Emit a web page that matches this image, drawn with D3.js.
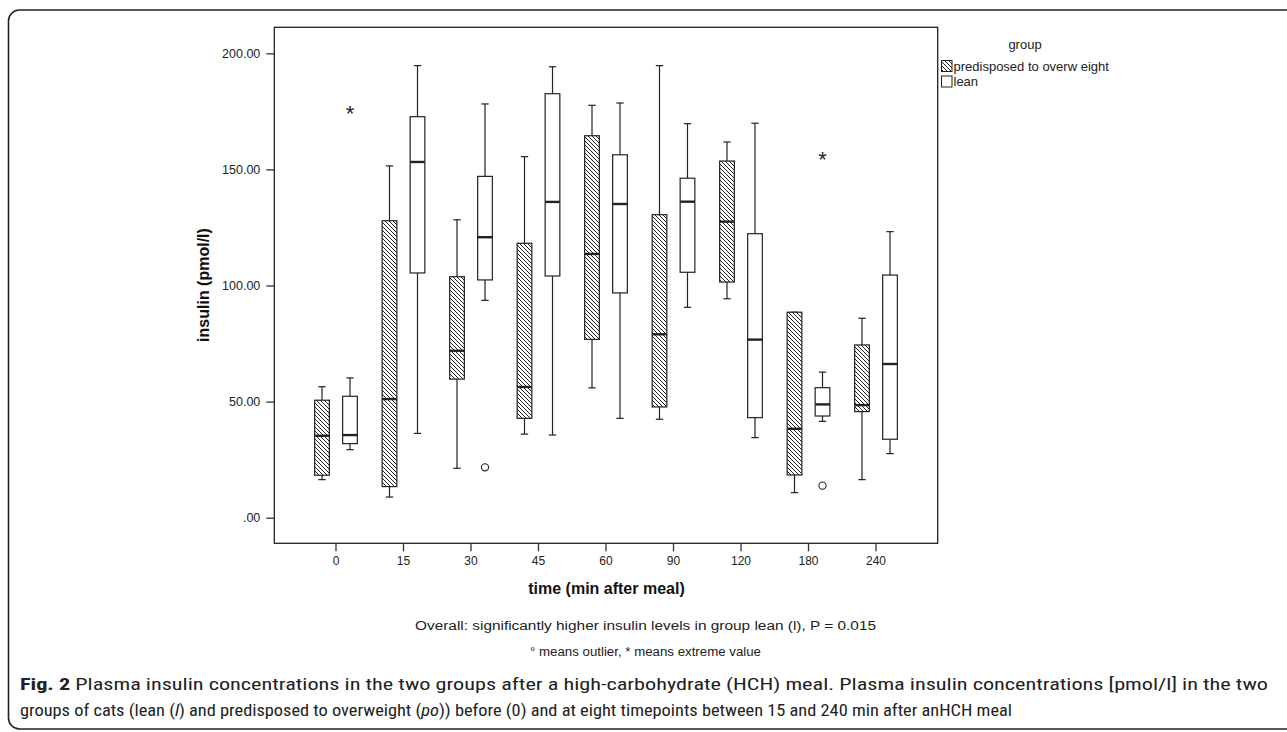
<!DOCTYPE html>
<html><head><meta charset="utf-8">
<script src="https://cdn.jsdelivr.net/npm/d3@7"></script>
<style>body{margin:0;background:#fff}svg{display:block}</style>
</head><body>
<svg id="c" width="1287" height="732"></svg>
<script>
// ---- data ----
const categories = ["0","15","30","45","60","90","120","180","240"];
const groups = ["predisposed to overweight","lean"];
const groupLabels = ["predisposed to overw eight","lean"];
// [whiskerLow, q1, median, q3, whiskerHigh]
const poStats = [
  [16.4,18.3,35.3,50.6,56.4],
  [8.9,13.4,51.1,127.9,151.5],
  [21.3,59.7,71.9,103.8,128.3],
  [36.0,42.8,56.3,118.2,155.5],
  [55.9,76.8,113.6,164.5,177.6],
  [42.4,47.7,79.0,130.5,194.7],
  [94.3,101.5,127.5,153.6,161.8],
  [10.8,18.4,38.3,88.5,88.5],
  [16.4,45.7,48.5,74.4,85.9]
];
const leanStats = [
  [29.3,31.9,35.6,52.3,60.2],
  [36.3,105.4,153.2,172.7,194.7],
  [93.6,102.4,120.8,147.0,178.2],
  [35.6,104.1,136.0,182.6,194.2],
  [42.8,96.8,135.1,156.3,178.6],
  [90.6,105.7,136.1,146.2,169.7],
  [34.5,43.1,76.7,122.3,169.9],
  [41.5,43.8,48.8,56.0,62.7],
  [27.6,33.8,66.2,104.5,123.2]
];
// outliers (circle) and extreme values (star): [category, group index, value]
const outliers = [["30",1,21.7],["180",1,13.8]];
const extremes = [["0",1,174.9],["180",1,154.8]];
const yTicks = [0,50,100,150,200];

// ---- layout ----
const FONT = "'Liberation Sans', Arial, sans-serif";
const svg = d3.select("#c");
const L = 274.3, R = 937.7, T = 27.3, B = 543.3;
const y = d3.scaleLinear().domain([-11.02, 211.2]).range([B, T]);
const x = d3.scaleBand().domain(categories).range([L, R]).paddingInner(0).paddingOuter(0.414);
const gx = d3.scalePoint().domain([0,1]).range([-14, 14]);
const bw = 14.7;
const cx = (c) => x(c) + x.bandwidth()/2;

// outer rounded border
svg.append("rect").attr("x",8.5).attr("y",10).attr("width",1300).attr("height",719)
  .attr("rx",11).attr("fill","none").attr("stroke","#222").attr("stroke-width",1.6);

// pattern
const defs = svg.append("defs");
const pat = defs.append("pattern").attr("id","hatch").attr("patternUnits","userSpaceOnUse")
  .attr("width",4).attr("height",4);
pat.append("rect").attr("width",4).attr("height",4).attr("fill","#fff");
pat.append("path").attr("d","M-1,-1 L5,5 M-1,3 L1,5 M3,-1 L5,1")
  .attr("stroke","#222").attr("stroke-width",1);

// frame
svg.append("rect").attr("x",L).attr("y",T).attr("width",R-L).attr("height",B-T)
  .attr("fill","none").attr("stroke","#222").attr("stroke-width",1.3);

// axes
const ya = svg.append("g").attr("transform",`translate(${L},0)`)
  .call(d3.axisLeft(y).tickValues(yTicks).tickSize(8).tickPadding(6)
    .tickFormat(d => d===0 ? ".00" : d.toFixed(2)));
ya.select(".domain").remove();
ya.selectAll("line").attr("stroke","#333").attr("stroke-width",1.3);
ya.selectAll("text").attr("font-family",FONT).attr("font-size",12.5).attr("fill","#222");

const xa = svg.append("g").attr("transform",`translate(0,${B})`)
  .call(d3.axisBottom(x).tickSize(8).tickPadding(5));
xa.select(".domain").remove();
xa.selectAll("line").attr("stroke","#333").attr("stroke-width",1.3);
xa.selectAll("text").attr("font-family",FONT).attr("font-size",12).attr("fill","#222");

// boxes
function drawBoxes(stats, gi){
  const g = svg.append("g");
  stats.forEach((s,i) => {
    const c = cx(categories[i]) + gx(gi);
    const [lo,q1,md,q3,hi] = s;
    const gg = g.append("g");
    const ln = (x1,y1,x2,y2,w) => gg.append("line").attr("x1",x1).attr("y1",y1).attr("x2",x2).attr("y2",y2)
      .attr("stroke","#222").attr("stroke-width",w||1.2);
    ln(c, y(hi), c, y(q3));
    ln(c, y(lo), c, y(q1));
    ln(c-bw/4, y(hi), c+bw/4, y(hi));
    ln(c-bw/4, y(lo), c+bw/4, y(lo));
    gg.append("rect").attr("x",c-bw/2).attr("y",y(q3)).attr("width",bw).attr("height",y(q1)-y(q3))
      .attr("fill", gi===0 ? "url(#hatch)" : "#fff").attr("stroke","#222").attr("stroke-width",1.2);
    ln(c-bw/2, y(md), c+bw/2, y(md), 2.4);
  });
}
drawBoxes(poStats,0);
drawBoxes(leanStats,1);

outliers.forEach(o => {
  svg.append("circle").attr("cx",cx(o[0])+gx(o[1])).attr("cy",y(o[2])).attr("r",3.6)
    .attr("fill","none").attr("stroke","#222").attr("stroke-width",1.1);
});
extremes.forEach(o => {
  svg.append("text").attr("x",cx(o[0])+gx(o[1])).attr("y",y(o[2])+9).attr("text-anchor","middle")
    .attr("font-family",FONT).attr("font-size",22).attr("fill","#222").text("*");
});

// titles
svg.append("text").attr("transform","translate(209,285) rotate(-90)").attr("text-anchor","middle")
  .attr("font-family",FONT).attr("font-weight","bold").attr("font-size",16)
  .attr("fill","#111").text("insulin (pmol/l)");
svg.append("text").attr("x",606.5).attr("y",594).attr("text-anchor","middle")
  .attr("font-family",FONT).attr("font-weight","bold").attr("font-size",16)
  .attr("fill","#111").text("time (min after meal)");
svg.append("text").attr("x",645.5).attr("y",630).attr("text-anchor","middle")
  .attr("font-family",FONT).attr("font-size",12.5)
  .attr("textLength",461).attr("lengthAdjust","spacingAndGlyphs")
  .attr("fill","#222").text("Overall: significantly higher insulin levels in group lean (l), P = 0.015");
svg.append("text").attr("x",645.5).attr("y",656).attr("text-anchor","middle")
  .attr("font-family",FONT).attr("font-size",12.5)
  .attr("textLength",231).attr("lengthAdjust","spacingAndGlyphs")
  .attr("fill","#222").text("° means outlier, * means extreme value");

// legend
const lg = svg.append("g");
lg.append("text").attr("x",1025).attr("y",49).attr("text-anchor","middle")
  .attr("font-family",FONT).attr("font-size",13).attr("fill","#222").text("group");
groups.forEach((gname,i) => {
  const yy = 60.5 + i*15.5;
  lg.append("rect").attr("x",941.5).attr("y",yy).attr("width",10.5).attr("height",11)
    .attr("fill", i===0 ? "url(#hatch)" : "#fff").attr("stroke","#222").attr("stroke-width",1);
  lg.append("text").attr("x",953.5).attr("y",yy+10).attr("font-family",FONT)
    .attr("font-size",13).attr("fill","#222").text(groupLabels[i]);
});

// caption
const CAPF = "'Liberation Sans Narrow', 'Roboto Condensed', 'Open Sans', sans-serif";
const cap1 = svg.append("text").attr("x",20).attr("y",690)
  .attr("font-family",CAPF).attr("font-size",16).attr("fill","#222")
  .attr("textLength",1248).attr("lengthAdjust","spacingAndGlyphs");
cap1.append("tspan").attr("font-weight","bold").text("Fig. 2");
cap1.append("tspan").text(" Plasma insulin concentrations in the two groups after a high-carbohydrate (HCH) meal. Plasma insulin concentrations [pmol/l] in the two");
const cap2 = svg.append("text").attr("x",20).attr("y",716)
  .attr("font-family",CAPF).attr("font-size",16).attr("fill","#222")
  .attr("textLength",992).attr("lengthAdjust","spacingAndGlyphs");
cap2.append("tspan").text("groups of cats (lean (");
cap2.append("tspan").attr("font-style","italic").text("l");
cap2.append("tspan").text(") and predisposed to overweight (");
cap2.append("tspan").attr("font-style","italic").text("po");
cap2.append("tspan").text(")) before (0) and at eight timepoints between 15 and 240 min after anHCH meal");
</script>
</body></html>
